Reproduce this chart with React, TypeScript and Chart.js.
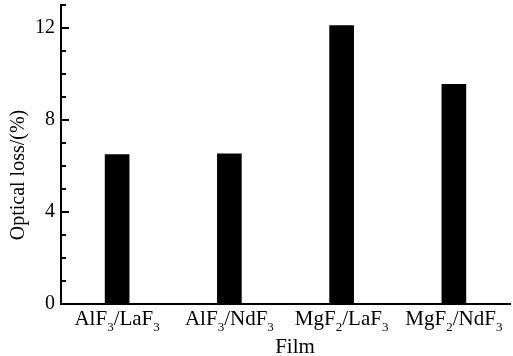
import React, { useEffect, useRef } from "react";
import { Chart, registerables } from "chart.js";

Chart.register(...registerables);

const categories = ["AlF3/LaF3", "AlF3/NdF3", "MgF2/LaF3", "MgF2/NdF3"];
const opticalLoss = [6.5, 6.53, 12.1, 9.55];
const yMajorTicks = [0, 4, 8, 12];
const xTitle = "Film";
const yTitle = "Optical loss/(%)";

const FONT = '"Liberation Serif", "Times New Roman", serif';

const drawPlugin = {
  id: "custom-draw",
  afterDraw(chart: any) {
    const ctx = chart.ctx as CanvasRenderingContext2D;
    const x = chart.scales.x;
    const y = chart.scales.y;
    const area = chart.chartArea;
    ctx.save();
    // inward ticks on y axis
    ctx.strokeStyle = "#000";
    ctx.lineWidth = 2;
    for (let v = y.min; v <= y.max; v += 1) {
      const py = Math.round(y.getPixelForValue(v));
      const len = yMajorTicks.includes(v) ? 8 : 5;
      ctx.beginPath();
      ctx.moveTo(area.left, py);
      ctx.lineTo(area.left + len, py);
      ctx.stroke();
    }
    // x labels with subscripts
    ctx.fillStyle = "#000";
    ctx.textBaseline = "alphabetic";
    ctx.textAlign = "left";
    const mainSize = 21;
    const subSize = 13;
    categories.forEach((label, i) => {
      const parts = label.split(/(\d+)/).filter((s) => s.length > 0);
      let total = 0;
      const widths = parts.map((p) => {
        const sub = /^\d+$/.test(p);
        ctx.font = `${sub ? subSize : mainSize}px ${FONT}`;
        const w = ctx.measureText(p).width;
        total += w;
        return w;
      });
      let cx = x.getPixelForValue(i) - total / 2;
      parts.forEach((p, k) => {
        const sub = /^\d+$/.test(p);
        ctx.font = `${sub ? subSize : mainSize}px ${FONT}`;
        ctx.fillText(p, cx, sub ? 331 : 325);
        cx += widths[k];
      });
    });
    // x title
    ctx.font = `21px ${FONT}`;
    ctx.textAlign = "center";
    ctx.fillText(xTitle, 295, 353);
    // y title
    ctx.translate(24, 175);
    ctx.rotate(-Math.PI / 2);
    ctx.font = `20px ${FONT}`;
    ctx.textAlign = "center";
    ctx.fillText(yTitle, 0, 0);
    ctx.restore();
  },
};

export default function App() {
  const ref = useRef<HTMLCanvasElement | null>(null);
  useEffect(() => {
    document.body.style.margin = "0";
    const chart = new Chart(ref.current as HTMLCanvasElement, {
      type: "bar",
      data: {
        labels: categories,
        datasets: [
          {
            data: opticalLoss,
            backgroundColor: "#000",
            borderWidth: 0,
            barThickness: 24,
          },
        ],
      },
      options: {
        animation: false,
        responsive: false,
        maintainAspectRatio: false,
        layout: { padding: { top: 5, right: 3, left: 0, bottom: 0 } },
        plugins: { legend: { display: false }, tooltip: { enabled: false } },
        scales: {
          x: {
            grid: { display: false, drawTicks: false },
            border: { display: true, color: "#000", width: 2 },
            ticks: { display: false },
            afterFit: (s: any) => {
              s.height = 52;
              s.paddingLeft = 0;
              s.paddingRight = 0;
            },
          },
          y: {
            min: 0,
            max: 13,
            grid: { display: false, drawTicks: false },
            border: { display: true, color: "#000", width: 2 },
            ticks: {
              stepSize: 1,
              padding: 6,
              color: "#000",
              font: { family: FONT, size: 20 },
              callback: (v: any) => (yMajorTicks.includes(Number(v)) ? String(v) : ""),
            },
            afterFit: (s: any) => {
              s.width = 61;
              s.paddingTop = 0;
              s.paddingBottom = 0;
            },
          },
        },
      },
      plugins: [drawPlugin],
    });
    return () => chart.destroy();
  }, []);
  return (
    <div style={{ position: "fixed", left: 0, top: 0, width: 513, height: 356 }}>
      <canvas ref={ref} width={513} height={356} style={{ width: 513, height: 356 }} />
    </div>
  );
}
